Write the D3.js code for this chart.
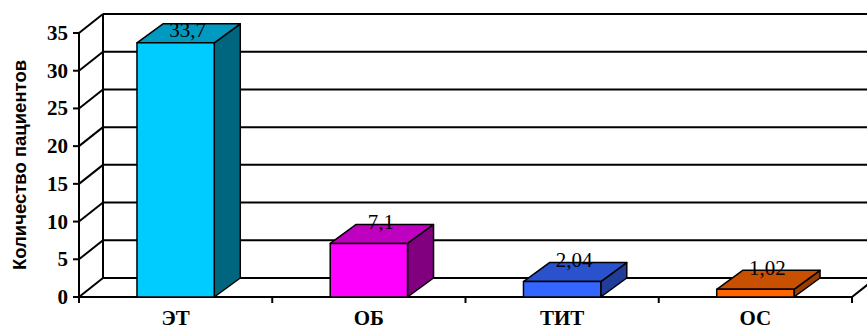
<!DOCTYPE html>
<html>
<head>
<meta charset="utf-8">
<script src="https://cdn.jsdelivr.net/npm/d3@7"></script>
<style>
  html, body { margin: 0; padding: 0; background: #fff; }
  svg { display: block; }
</style>
</head>
<body>
<svg id="chart" width="867" height="330"></svg>
<script>
// ---- data ----
const categories = ["ЭТ", "ОБ", "ТИТ", "ОС"];
const values = [33.7, 7.1, 2.04, 1.02];
const valueLabels = ["33,7", "7,1", "2,04", "1,02"];
const yTicks = [0, 5, 10, 15, 20, 25, 30, 35];
const yTitle = "Количество пациентов";
const frontColors = ["#00CCFF", "#FF00FF", "#3366FF", "#FF6600"];
const topColors = ["#0099C0", "#C000C0", "#2A52CC", "#C85000"];
const sideColors = ["#00667F", "#800080", "#1F3D99", "#993D00"];

// ---- layout ----
const svg = d3.select("#chart");
const x0 = 79, x1 = 852, yBottom = 297, yTop = 33;
const wdx = 24, wdy = -19;   // wall depth
const bdx = 26, bdy = -19;   // bar depth

const y = d3.scaleLinear().domain([0, 35]).range([yBottom, yTop]);
const x = d3.scaleBand().domain(categories).range([x0, x1]).padding(0);
const barW = x.bandwidth() * 0.4;

const g = svg.append("g");
const lineStyle = s => s.attr("stroke", "#000").attr("stroke-width", 2).attr("fill", "none");

// back wall gridlines + left wall diagonals
yTicks.forEach(t => {
  const yy = y(t);
  g.append("line").attr("x1", x0).attr("y1", yy).attr("x2", x0 + wdx).attr("y2", yy + wdy).call(lineStyle);
  g.append("line").attr("x1", x0 + wdx).attr("y1", yy + wdy).attr("x2", 900).attr("y2", yy + wdy).call(lineStyle);
  g.append("line").attr("x1", x0 - 6).attr("y1", yy).attr("x2", x0).attr("y2", yy).call(lineStyle);
});
g.append("line").attr("x1", x0 + wdx).attr("y1", y(35) + wdy).attr("x2", x0 + wdx).attr("y2", y(0) + wdy).call(lineStyle);
g.append("line").attr("x1", x0).attr("y1", y(35)).attr("x2", x0).attr("y2", yBottom + 6).call(lineStyle);
g.append("line").attr("x1", x0).attr("y1", yBottom).attr("x2", x1).attr("y2", yBottom).call(lineStyle);
g.append("line").attr("x1", x1).attr("y1", yBottom).attr("x2", x1 + wdx).attr("y2", yBottom + wdy).call(lineStyle);
categories.forEach((c) => {
  const bx = x(c) + x.bandwidth();
  g.append("line").attr("x1", bx).attr("y1", yBottom).attr("x2", bx).attr("y2", yBottom + 6).call(lineStyle);
});

// y tick labels
g.selectAll("text.ytick").data(yTicks).join("text")
  .attr("class", "ytick")
  .attr("x", x0 - 11).attr("y", d => y(d) + 7)
  .attr("text-anchor", "end")
  .attr("font-family", "'Liberation Serif', 'Times New Roman', serif")
  .attr("font-weight", "bold").attr("font-size", 21)
  .text(d => d);

// y title
g.append("text")
  .attr("transform", `translate(26, 165) rotate(-90)`)
  .attr("text-anchor", "middle")
  .attr("font-family", "'Liberation Sans', Arial, sans-serif")
  .attr("font-weight", "bold").attr("font-size", 18.5)
  .text(yTitle);

// bars
categories.forEach((c, i) => {
  const v = values[i];
  const xl = x(c) + (x.bandwidth() - barW) / 2;
  const xr = xl + barW;
  const yt = y(v), yb = y(0);
  const bars = g.append("g").attr("stroke", "#000").attr("stroke-width", 1.5).attr("stroke-linejoin", "round");
  bars.append("path")
    .attr("d", `M${xr},${yb} L${xr + bdx},${yb + bdy} L${xr + bdx},${yt + bdy} L${xr},${yt} Z`)
    .attr("fill", sideColors[i]);
  bars.append("path")
    .attr("d", `M${xl},${yt} L${xl + bdx},${yt + bdy} L${xr + bdx},${yt + bdy} L${xr},${yt} Z`)
    .attr("fill", topColors[i]);
  bars.append("rect")
    .attr("x", xl).attr("y", yt).attr("width", barW).attr("height", yb - yt)
    .attr("fill", frontColors[i]);
  const ly = Math.max(yt + bdy + 4.5, y(35) + wdy + 23);
  g.append("text")
    .attr("x", (xl + xr) / 2 + bdx / 2 - 1).attr("y", ly)
    .attr("text-anchor", "middle")
    .attr("font-family", "'Liberation Serif', 'Times New Roman', serif")
    .attr("font-size", 21).attr("fill", "#000")
    .text(valueLabels[i]);
  g.append("text")
    .attr("x", x(c) + x.bandwidth() / 2).attr("y", 325)
    .attr("text-anchor", "middle")
    .attr("font-family", "'Liberation Serif', 'Times New Roman', serif")
    .attr("font-weight", "bold").attr("font-size", 21)
    .text(c);
});
</script>
</body>
</html>
